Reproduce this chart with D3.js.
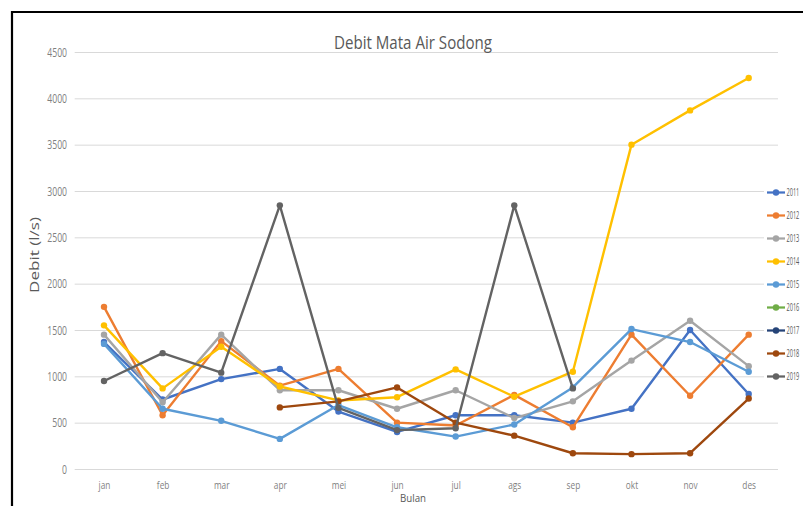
<!DOCTYPE html>
<html>
<head>
<meta charset="utf-8">
<script src="https://cdn.jsdelivr.net/npm/d3@7"></script>
<style>
  html, body { margin: 0; padding: 0; background: #fff; }
  svg { display: block; }
  text { font-family: "Open Sans", "Noto Sans", sans-serif; }
</style>
</head>
<body>
<svg id="chart" width="803" height="506"></svg>
<script>
// ---- data ----
const months = ["jan", "feb", "mar", "apr", "mei", "jun", "jul", "ags", "sep", "okt", "nov", "des"];
const years = ["2011", "2012", "2013", "2014", "2015", "2016", "2017", "2018", "2019"];
const yTicks = [0, 500, 1000, 1500, 2000, 2500, 3000, 3500, 4000, 4500];

const s2011 = [1370, 750, 970, 1080, 620, 400, 580, 580, 500, 650, 1500, 810];
const s2012 = [1750, 580, 1380, 900, 1080, 500, 470, 800, 450, 1450, 790, 1450];
const s2013 = [1450, 720, 1450, 850, 850, 650, 850, 550, 730, 1170, 1600, 1110];
const s2014 = [1550, 870, 1320, 890, 740, 775, 1075, 780, 1050, 3500, 3870, 4220];
const s2015 = [1350, 650, 520, 325, 690, 450, 350, 480, 880, 1510, 1370, 1050];
const s2016 = [null, null, null, null, null, null, null, null, null, null, null, null];
const s2017 = [null, null, null, null, null, null, null, null, null, null, null, null];
const s2018 = [null, null, null, 665, 730, 880, 500, 360, 170, 160, 170, 760];
const s2019 = [950, 1250, 1040, 2845, 660, 420, 440, 2845, 870, null, null, null];

const seriesValues = [s2011, s2012, s2013, s2014, s2015, s2016, s2017, s2018, s2019];

// ---- styles ----
const colors = ["#4472C4", "#ED7D31", "#A5A5A5", "#FFC000", "#5B9BD5", "#70AD47", "#264478", "#9E480E", "#636363"];
const textColor = "#595959";
const tickColor = "#7f7f7f";
const gridColor = "#d9d9d9";

const svg = d3.select("#chart");

const plotLeft = 74.7, plotRight = 778, plotTop = 52, plotBottom = 469;

const x = d3.scalePoint().domain(months).range([plotLeft, plotRight]).padding(0.5);
const y = d3.scaleLinear().domain([0, 4500]).range([plotBottom, plotTop]);

// frame
svg.append("path")
  .attr("d", "M12,506 V12 H803")
  .attr("fill", "none")
  .attr("stroke", "#000")
  .attr("stroke-width", 2.2);

// y axis with gridlines
const yAxis = svg.append("g")
  .attr("transform", `translate(${plotLeft},0)`)
  .call(d3.axisLeft(y).tickValues(yTicks).tickFormat(d3.format("d"))
    .tickSize(-(plotRight - plotLeft)).tickPadding(0));
yAxis.select(".domain").remove();
yAxis.selectAll(".tick line").attr("stroke", gridColor).attr("stroke-width", 1);
const sx = 0.72;
yAxis.selectAll(".tick text")
  .attr("fill", tickColor)
  .attr("font-size", 12)
  .attr("x", -7.7 / sx)
  .attr("dy", "0.34em")
  .attr("transform", `scale(${sx},1)`);

// x axis labels
const xAxis = svg.append("g")
  .attr("transform", `translate(0,${plotBottom})`)
  .call(d3.axisBottom(x).tickSize(0).tickPadding(12));
xAxis.select(".domain").remove();
xAxis.selectAll(".tick text")
  .attr("fill", tickColor)
  .attr("font-size", 11.5)
  .attr("transform", `scale(${sx},1)`);

// title
svg.append("text")
  .attr("x", 413).attr("y", 49)
  .attr("text-anchor", "middle")
  .attr("fill", textColor)
  .attr("font-size", 18)
  .attr("textLength", 158)
  .attr("lengthAdjust", "spacingAndGlyphs")
  .text("Debit Mata Air Sodong");

// axis titles
svg.append("text")
  .attr("transform", "translate(39,255) rotate(-90)")
  .attr("text-anchor", "middle")
  .attr("fill", textColor)
  .attr("font-size", 12)
  .attr("textLength", 76)
  .attr("lengthAdjust", "spacingAndGlyphs")
  .text("Debit (l/s)");

svg.append("text")
  .attr("x", 413).attr("y", 501.5)
  .attr("text-anchor", "middle")
  .attr("fill", textColor)
  .attr("font-size", 11.5)
  .attr("textLength", 26)
  .attr("lengthAdjust", "spacingAndGlyphs")
  .text("Bulan");

// series
const line = d3.line()
  .defined(d => d.v !== null)
  .x(d => x(d.m))
  .y(d => y(d.v));

const seriesG = svg.append("g");
years.forEach((yr, i) => {
  const pts = months.map((m, j) => ({ m, v: seriesValues[i][j] }));
  const g = seriesG.append("g");
  g.append("path")
    .datum(pts)
    .attr("d", line)
    .attr("fill", "none")
    .attr("stroke", colors[i])
    .attr("stroke-width", 2.4)
    .attr("stroke-linejoin", "round");
  g.selectAll("circle")
    .data(pts.filter(d => d.v !== null))
    .join("circle")
    .attr("cx", d => x(d.m))
    .attr("cy", d => y(d.v))
    .attr("r", 3.2)
    .attr("fill", colors[i]);
});

// legend
const legend = svg.append("g");
legend.append("rect")
  .attr("x", 764).attr("y", 180).attr("width", 39).attr("height", 210)
  .attr("fill", "#fff");
const legendY = d3.scalePoint().domain(years).range([192.5, 376.5]);
years.forEach((yr, i) => {
  const ly = legendY(yr);
  const lg = legend.append("g");
  lg.append("line")
    .attr("x1", 767).attr("x2", 785)
    .attr("y1", ly).attr("y2", ly)
    .attr("stroke", colors[i])
    .attr("stroke-width", 2.25);
  lg.append("circle")
    .attr("cx", 776).attr("cy", ly).attr("r", 3.2)
    .attr("fill", colors[i]);
  lg.append("text")
    .attr("transform", `translate(786.5,${ly}) scale(0.56,1)`)
    .attr("dy", "0.34em")
    .attr("fill", textColor)
    .attr("font-size", 10)
    .text(yr);
});
</script>
</body>
</html>
